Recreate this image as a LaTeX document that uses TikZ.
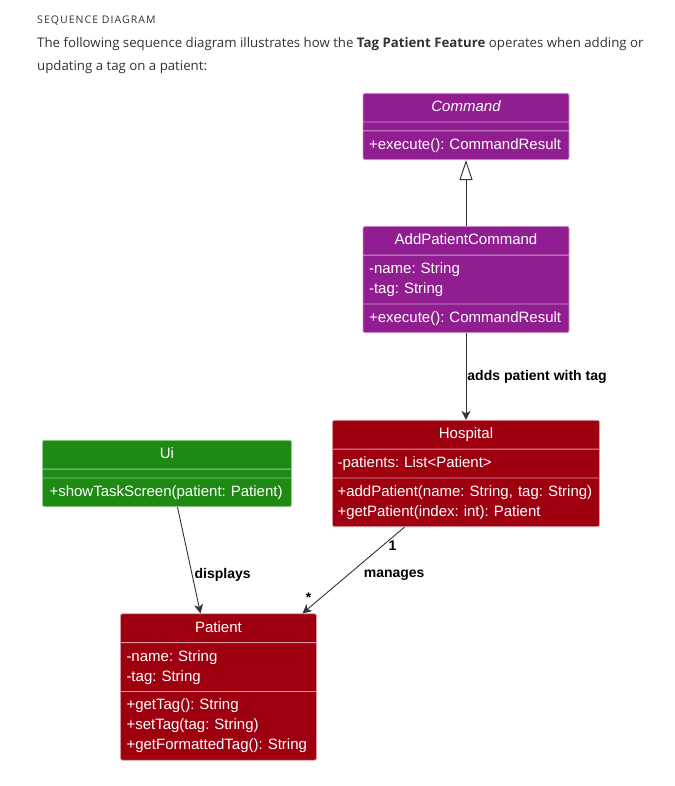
\documentclass[tikz,border=0pt]{standalone}
\usepackage{fontspec}
\setmainfont{Open Sans}
\newfontfamily\umlfont{Liberation Sans}
\usetikzlibrary{arrows.meta,shapes.multipart,positioning}

\definecolor{cmdpurple}{RGB}{145,30,145}
\definecolor{modelred}{RGB}{158,0,16}
\definecolor{uigreen}{RGB}{30,138,20}
\definecolor{edgegray}{RGB}{51,51,51}
\definecolor{introgray}{RGB}{51,51,51}

% one text row of a class compartment, and a centred title row
\newcommand{\umlrow}{\rule[-6pt]{0pt}{20pt}}
\newcommand{\umltitle}[1]{\makebox[\hsize][c]{\umlrow #1}}

\tikzstyle{umlclass} = [rectangle split, rectangle split parts=3, rounded corners=2pt,
    line width=0.8pt, text=white, font=\umlfont\fontsize{15}{20}\selectfont\frenchspacing,
    align=left, inner xsep=6pt, inner ysep=4pt,
    rectangle split empty part height=0pt, rectangle split empty part depth=0pt]
\tikzstyle{cmdclass} = [umlclass, fill=cmdpurple, draw=cmdpurple!45!white]
\tikzstyle{modelclass} = [umlclass, fill=modelred, draw=modelred!40!white]
\tikzstyle{uiclass} = [umlclass, fill=uigreen, draw=uigreen!45!white]
\tikzstyle{line} = [draw=edgegray, line width=0.9pt, -{Stealth[length=9pt,width=9pt,inset=2.5pt]}]
\tikzstyle{inherit} = [draw=edgegray, line width=0.9pt, -{Triangle[open,length=20pt,width=13pt,fill=white]}]
\tikzstyle{edgelabel} = [font=\umlfont\bfseries\fontsize{14}{16}\selectfont, text=black, inner sep=1pt]

\begin{document}
\begin{tikzpicture}[x=1pt,y=1pt]
    \useasboundingbox (0,0) rectangle (674,-786);

    % Intro text
    \node[anchor=base west, inner sep=0pt, text=introgray, font=\fontsize{10.5}{12}\selectfont\addfontfeatures{LetterSpace=10}] (heading) at (37,-24) {SEQUENCE DIAGRAM};
    \node[anchor=base west, inner sep=0pt, text=introgray, font=\fontsize{13.25}{16}\selectfont] (intro1) at (37,-48) {The following sequence diagram illustrates how the \textbf{Tag Patient Feature} operates when adding or};
    \node[anchor=base west, inner sep=0pt, text=introgray, font=\fontsize{13.25}{16}\selectfont] (intro2) at (37,-71) {updating a tag on a patient:};

    % Place nodes
    \node [cmdclass, text width=194pt] (command) at (466,-126.5)
        {\umltitle{\itshape Command}\nodepart{two}\nodepart{three}\umlrow +execute(): CommandResult};
    \node [cmdclass, text width=194pt, below of=command, node distance=153pt] (addcmd)
        {\umltitle{AddPatientCommand}\nodepart{two}\umlrow -name: String\\\umlrow -tag: String\nodepart{three}\umlrow +execute(): CommandResult};
    \node [modelclass, text width=257pt, inner xsep=5pt, below of=addcmd, node distance=194pt] (hospital)
        {\umltitle{Hospital}\nodepart{two}\umlrow -patients: List<Patient>\nodepart{three}\umlrow +addPatient(name: String, tag: String)\\\umlrow +getPatient(index: int): Patient};
    \node [uiclass, text width=235pt, inner xsep=7pt, left of=hospital, node distance=299pt] (ui)
        {\umltitle{Ui}\nodepart{two}\nodepart{three}\umlrow +showTaskScreen(patient: Patient)};
    \node [modelclass, text width=184pt, below of=ui, node distance=213.5pt, xshift=51.5pt] (patient)
        {\umltitle{Patient}\nodepart{two}\umlrow -name: String\\\umlrow -tag: String\nodepart{three}\umlrow +getTag(): String\\\umlrow +setTag(tag: String)\\\umlrow +getFormattedTag(): String};

    % Draw edges
    \path [inherit] (addcmd) -- (command);
    \path [line] (addcmd.south) -- node[edgelabel, right] {adds patient with tag} (addcmd.south |- hospital.north);
    \path [line] ([xshift=10.5pt]ui.south) -- node[edgelabel, pos=0.64, right, xshift=1pt] {displays} ([xshift=-18pt]patient.north);
    \path [line] ([xshift=-61.5pt]hospital.south) --
        node[edgelabel, pos=0.22, right, xshift=5pt] {1}
        node[edgelabel, pos=0.56, right, xshift=15pt] {manages}
        node[edgelabel, pos=0.82, left, xshift=-8pt] {*} ([xshift=84pt]patient.north);
\end{tikzpicture}
\end{document}
